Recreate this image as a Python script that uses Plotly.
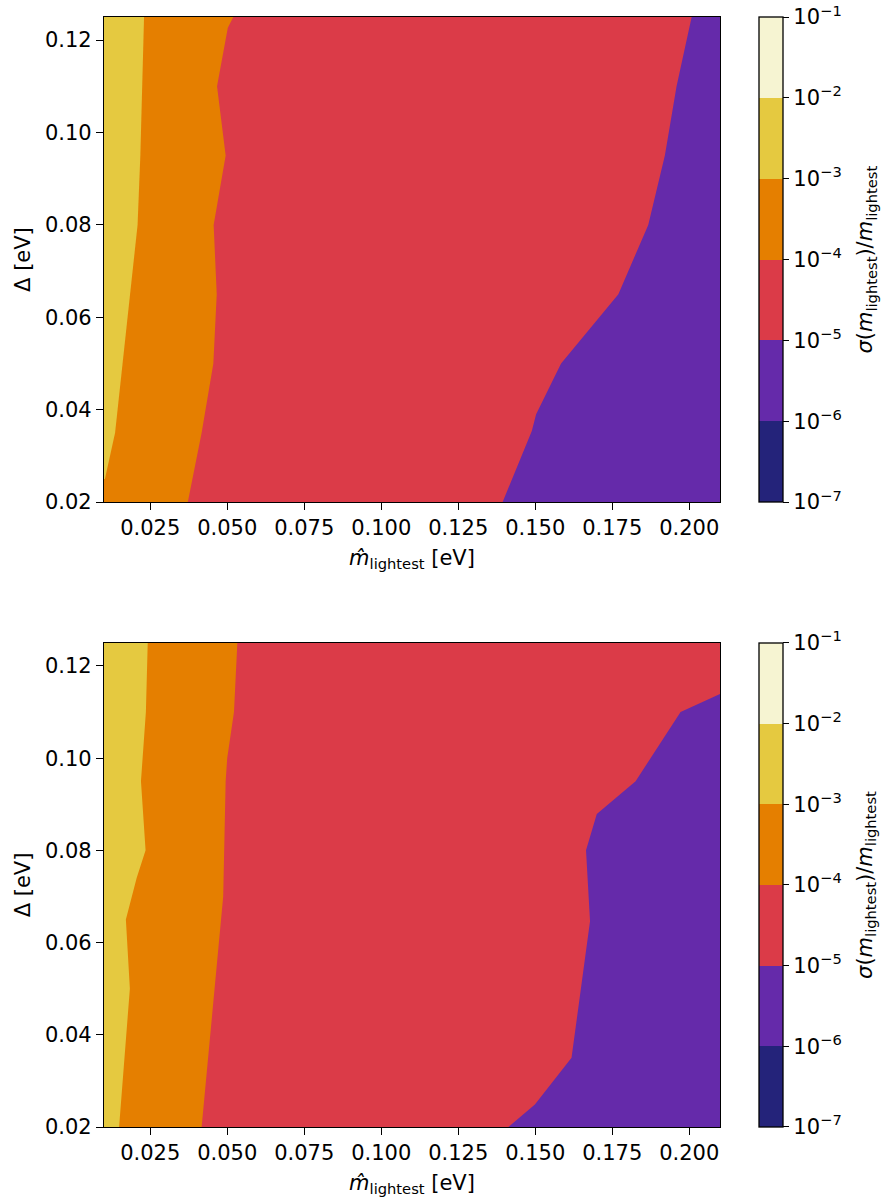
import plotly.graph_objects as go

# Axis extents
M_RANGE = [0.01, 0.21]      # m_lightest [eV]
D_RANGE = [0.02, 0.125]     # Delta [eV]

# Contour levels (log10 of sigma(m)/m) and band colours
LEVEL_EXP = [-7, -6, -5, -4, -3, -2, -1]
BAND_COLORS = ["#24237a", "#652aaa", "#db3b48", "#e57f00", "#e5c940", "#f6f4d2"]

# Upper panel: iso-lines (m_lightest, Delta)
top_c3_m = [0.0103, 0.0136, 0.0160, 0.0185, 0.0209, 0.0218, 0.0225, 0.0230]
top_c3_d = [0.025, 0.035, 0.050, 0.065, 0.080, 0.095, 0.110, 0.125]
top_c4_m = [0.0372, 0.0417, 0.0455, 0.0466, 0.0456, 0.0495, 0.0467, 0.0502, 0.0520]
top_c4_d = [0.020, 0.035, 0.050, 0.065, 0.080, 0.095, 0.110, 0.1227, 0.125]
top_c5_m = [0.1394, 0.1489, 0.1503, 0.1584, 0.1770, 0.1867, 0.1921, 0.1959, 0.2008]
top_c5_d = [0.020, 0.0354, 0.039, 0.050, 0.065, 0.080, 0.095, 0.110, 0.125]

# Lower panel: iso-lines (m_lightest, Delta)
bot_c3_m = [0.0149, 0.0184, 0.0171, 0.0206, 0.0235, 0.0220, 0.0236, 0.0242]
bot_c3_d = [0.020, 0.050, 0.065, 0.074, 0.080, 0.095, 0.110, 0.125]
bot_c4_m = [0.0417, 0.0487, 0.0495, 0.0500, 0.0522, 0.0533]
bot_c4_d = [0.020, 0.070, 0.095, 0.100, 0.110, 0.125]
bot_c5_m = [0.1413, 0.1499, 0.1618, 0.1678, 0.1665, 0.1700, 0.1826, 0.1972, 0.2100]
bot_c5_d = [0.020, 0.0249, 0.035, 0.0646, 0.080, 0.0879, 0.095, 0.110, 0.1139]

FONT = "DejaVu Sans"
FS = 21
CB_TITLE = "<i>\u03c3</i>(<i>m</i><sub>lightest</sub>)/<i>m</i><sub>lightest</sub>"


def left_region(ms, ds):
    """Polygon covering everything to the left of an iso-line."""
    px = [M_RANGE[0]] + list(ms)
    py = [ds[0]] + list(ds)
    if ds[-1] < D_RANGE[1]:
        px.append(M_RANGE[1])
        py.append(D_RANGE[1])
    px.append(M_RANGE[0])
    py.append(D_RANGE[1])
    return px, py


def band_traces(lines, xa, ya):
    traces = []
    # lowest band in the view fills the full panel first
    full_x = [M_RANGE[0], M_RANGE[1], M_RANGE[1], M_RANGE[0]]
    full_y = [D_RANGE[0], D_RANGE[0], D_RANGE[1], D_RANGE[1]]
    traces.append(go.Scatter(x=full_x, y=full_y, fill="toself", mode="lines",
                             line=dict(width=0), fillcolor=BAND_COLORS[1],
                             xaxis=xa, yaxis=ya, hoverinfo="skip", showlegend=False))
    for (ms, ds), col in zip(lines, BAND_COLORS[2:5]):
        px, py = left_region(ms, ds)
        traces.append(go.Scatter(x=px, y=py, fill="toself", mode="lines",
                                 line=dict(width=0), fillcolor=col,
                                 xaxis=xa, yaxis=ya, hoverinfo="skip", showlegend=False))
    return traces


def stepped_scale():
    n = len(BAND_COLORS)
    scale = []
    for i, c in enumerate(BAND_COLORS):
        scale.append([i / n, c])
        scale.append([(i + 1) / n, c])
    return scale


def exp_label(e):
    return "10<sup>\u2212%d</sup>" % abs(e) if e < 0 else "10<sup>%d</sup>" % e


def colorbar_trace(xa, ya, y_top, length):
    return go.Scatter(
        x=[None], y=[None], mode="markers", xaxis=xa, yaxis=ya, showlegend=False,
        marker=dict(
            color=[LEVEL_EXP[0]], cmin=LEVEL_EXP[0], cmax=LEVEL_EXP[-1],
            colorscale=stepped_scale(), showscale=True,
            colorbar=dict(
                x=(759 - 104) / 616, xanchor="left", xpad=0,
                y=y_top, yanchor="top", len=length, lenmode="fraction", ypad=0,
                thickness=24, outlinewidth=1.3, outlinecolor="black",
                tickvals=LEVEL_EXP, ticktext=[exp_label(e) for e in LEVEL_EXP],
                ticks="outside", ticklen=6, tickwidth=1.3, tickcolor="black",
                tickfont=dict(family=FONT, size=FS, color="black"),
            ),
        ),
    )


traces = []
traces += band_traces([(top_c5_m, top_c5_d), (top_c4_m, top_c4_d), (top_c3_m, top_c3_d)], "x", "y")
traces += band_traces([(bot_c5_m, bot_c5_d), (bot_c4_m, bot_c4_d), (bot_c3_m, bot_c3_d)], "x2", "y2")

H_PLOT = 1202 - 17 - 73
TOP_DOM = [(1129 - 503) / H_PLOT, 1.0]
BOT_DOM = [0.0, (1129 - 644) / H_PLOT]

traces.append(colorbar_trace("x", "y", TOP_DOM[1], TOP_DOM[1] - TOP_DOM[0]))
traces.append(colorbar_trace("x2", "y2", BOT_DOM[1], BOT_DOM[1] - BOT_DOM[0]))

fig = go.Figure(traces)

x_ticks = [0.025, 0.05, 0.075, 0.10, 0.125, 0.15, 0.175, 0.20]
y_ticks = [0.02, 0.04, 0.06, 0.08, 0.10, 0.12]

xaxis_common = dict(
    range=M_RANGE, tickvals=x_ticks, tickformat=".3f", ticks="outside", ticklen=7,
    tickwidth=1.3, tickcolor="black", showline=True, linecolor="black", linewidth=1.3,
    mirror=True, showgrid=False, zeroline=False,
    tickfont=dict(family=FONT, size=FS, color="black"),
    title=dict(text="<i>m\u0302</i><sub>lightest</sub> [eV]", standoff=10,
               font=dict(family=FONT, size=FS, color="black")),
)
yaxis_common = dict(
    range=D_RANGE, tickvals=y_ticks, tickformat=".2f", ticks="outside", ticklen=7,
    tickwidth=1.3, tickcolor="black", showline=True, linecolor="black", linewidth=1.3,
    mirror=True, showgrid=False, zeroline=False,
    tickfont=dict(family=FONT, size=FS, color="black"),
    title=dict(text="\u0394 [eV]", standoff=8,
               font=dict(family=FONT, size=FS, color="black")),
)

# colour-bar labels, rotated, to the right of each bar
cb_titles = [
    dict(text=CB_TITLE, xref="paper", yref="paper", x=(866 - 104) / 616,
         y=sum(dom) / 2, xanchor="center", yanchor="middle", textangle=-90,
         showarrow=False, font=dict(family=FONT, size=FS, color="black"))
    for dom in (TOP_DOM, BOT_DOM)
]

fig.update_layout(
    width=883, height=1202,
    margin=dict(l=104, r=163, t=17, b=73),
    paper_bgcolor="white", plot_bgcolor="white",
    xaxis=dict(xaxis_common, domain=[0, 1], anchor="y"),
    yaxis=dict(yaxis_common, domain=TOP_DOM, anchor="x"),
    xaxis2=dict(xaxis_common, domain=[0, 1], anchor="y2"),
    yaxis2=dict(yaxis_common, domain=BOT_DOM, anchor="x2"),
    annotations=cb_titles,
)

fig.write_html("out.html")
